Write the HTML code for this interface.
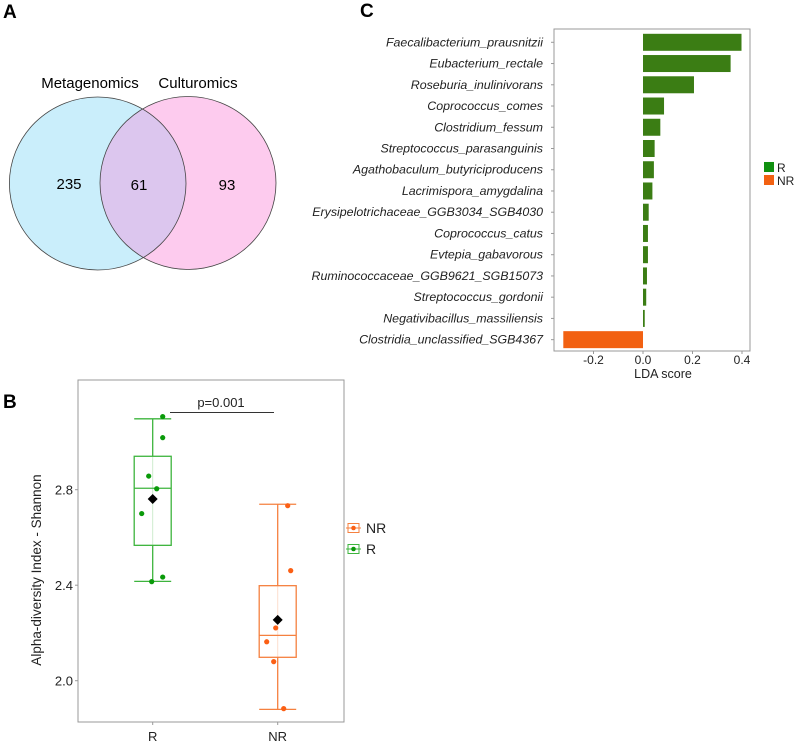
<!DOCTYPE html>
<html><head><meta charset="utf-8"><style>
html,body{margin:0;padding:0;background:#fff;}
svg{display:block;font-family:"Liberation Sans",Arial,sans-serif;}
</style></head><body>
<svg id="fig" width="797" height="745" viewBox="0 0 797 745" xmlns="http://www.w3.org/2000/svg">
<text x="3" y="18" font-size="19" font-weight="bold">A</text>
<text x="3" y="408" font-size="19" font-weight="bold">B</text>
<text x="360" y="17" font-size="19" font-weight="bold">C</text>
<g>
<defs><clipPath id="clipL"><ellipse cx="97.7" cy="183.5" rx="88.3" ry="86.5"/></clipPath></defs>
<ellipse cx="97.7" cy="183.5" rx="88.3" ry="86.5" fill="#caeefb"/>
<ellipse cx="188" cy="183" rx="88" ry="86.5" fill="#fdcbee"/>
<ellipse cx="188" cy="183" rx="88" ry="86.5" fill="#dcc6ee" clip-path="url(#clipL)"/>
<ellipse cx="97.7" cy="183.5" rx="88.3" ry="86.5" fill="none" stroke="#444" stroke-width="0.8"/>
<ellipse cx="188" cy="183" rx="88" ry="86.5" fill="none" stroke="#444" stroke-width="0.8"/>
<text x="90" y="88" font-size="15" text-anchor="middle">Metagenomics</text>
<text x="198" y="88" font-size="15" text-anchor="middle">Culturomics</text>
<text x="69" y="189" font-size="15" text-anchor="middle">235</text>
<text x="139" y="190" font-size="15" text-anchor="middle">61</text>
<text x="227" y="190" font-size="15" text-anchor="middle">93</text>
</g>
<g id="lda"></g>
<g id="box"></g>
</svg>
<script>
const ldaTaxa=["Faecalibacterium_prausnitzii","Eubacterium_rectale","Roseburia_inulinivorans","Coprococcus_comes","Clostridium_fessum","Streptococcus_parasanguinis","Agathobaculum_butyriciproducens","Lacrimispora_amygdalina","Erysipelotrichaceae_GGB3034_SGB4030","Coprococcus_catus","Evtepia_gabavorous","Ruminococcaceae_GGB9621_SGB15073","Streptococcus_gordonii","Negativibacillus_massiliensis","Clostridia_unclassified_SGB4367"];
const ldaScores=[0.398,0.354,0.206,0.085,0.07,0.047,0.044,0.038,0.023,0.02,0.02,0.016,0.013,0.007,-0.322];
const ldaTicks=[-0.2,0.0,0.2,0.4];
const ldaTickLabels=["-0.2","0.0","0.2","0.4"];

const boxGroups=["R","NR"];
const boxLow=[2.416,1.88];
const boxQ1=[2.567,2.098];
const boxMedian=[2.806,2.19];
const boxQ3=[2.94,2.398];
const boxHigh=[3.097,2.739];
const boxMean=[2.761,2.255];
const pointsR=[3.106,3.018,2.857,2.804,2.70,2.434,2.415];
const jitterR=[10,10,-4,4,-11,10,-1];
const pointsNR=[2.733,2.461,2.221,2.163,2.080,1.883];
const jitterNR=[10,13,-2,-11,-4,6];
const yTicks=[2.0,2.4,2.8];
const yTickLabels=["2.0","2.4","2.8"];

const NS="http://www.w3.org/2000/svg";
function mk(parent,tag,attrs,text){const e=document.createElementNS(NS,tag);for(const k in attrs)e.setAttribute(k,attrs[k]);if(text!==undefined)e.textContent=text;parent.appendChild(e);return e;}

const L=document.getElementById('lda');
const fx={l:554,r:750,t:29,b:351};
const xS=v=>643+v*(99/0.4);
const rowY=i=>42.3+i*21.24;
let fr=mk(L,'rect',{x:fx.l,y:fx.t,width:fx.r-fx.l,height:fx.b-fx.t,fill:'none',stroke:'#999','stroke-width':1});


ldaTaxa.forEach((t,i)=>{
  const v=ldaScores[i];const y=rowY(i);
  const x0=xS(Math.min(0,v)),x1=xS(Math.max(0,v));
  const b=mk(L,'rect',{x:x0,y:y-8.5,width:Math.max(1,x1-x0),height:17,fill:v>=0?'#3b7d14':'#f26112'});
  
  
  mk(L,'line',{x1:fx.l-3,x2:fx.l,y1:y,y2:y,stroke:'#999'});
  const lb=mk(L,'text',{x:543,y:y+4,'font-size':12.4,'font-style':'italic','text-anchor':'end',fill:'#222'},t);
  
  
});
ldaTicks.forEach((v,i)=>{
  mk(L,'line',{x1:xS(v),x2:xS(v),y1:fx.b,y2:fx.b+3,stroke:'#999'});
  const tl=mk(L,'text',{x:xS(v),y:364,'font-size':12,'text-anchor':'middle',fill:'#222'},ldaTickLabels[i]);
  
  
});
let xt=mk(L,'text',{x:663,y:378,'font-size':12.5,'text-anchor':'middle',fill:'#222'},'LDA score');


let lg1=mk(L,'rect',{x:764,y:162,width:10,height:10,fill:'#109010'});


let lt1=mk(L,'text',{x:777,y:172,'font-size':12,fill:'#222'},'R');


let lg2=mk(L,'rect',{x:764,y:175,width:10,height:10,fill:'#f26112'});


let lt2=mk(L,'text',{x:777,y:185,'font-size':12,fill:'#222'},'NR');



const B=document.getElementById('box');
const bf={l:78,r:344,t:380,b:722};
const yS=v=>489.7-(v-2.8)*(95.5/0.4);
const gx=[152.7,277.7];
const cols=['#3db43d','#f5803f'];
const ptc=['#0a9a0a','#fb5f14'];
let bfr=mk(B,'rect',{x:bf.l,y:bf.t,width:bf.r-bf.l,height:bf.b-bf.t,fill:'none',stroke:'#999','stroke-width':1});


yTicks.forEach((v,i)=>{
  mk(B,'line',{x1:bf.l-3,x2:bf.l,y1:yS(v),y2:yS(v),stroke:'#999'});
  const t=mk(B,'text',{x:bf.l-5,y:yS(v)+5,'font-size':13,'text-anchor':'end',fill:'#222'},yTickLabels[i]);
  
  
});
let yt=mk(B,'text',{x:0,y:0,'font-size':13.5,'text-anchor':'middle',fill:'#222',transform:'translate(41,570) rotate(-90)'},'Alpha-diversity Index - Shannon');


boxGroups.forEach((g,i)=>{
  const x=gx[i],c=cols[i],hw=18.5;
  mk(B,'line',{x1:x,x2:x,y1:yS(boxHigh[i]),y2:yS(boxLow[i]),stroke:c,'stroke-width':1.3});
  mk(B,'line',{x1:x-hw,x2:x+hw,y1:yS(boxHigh[i]),y2:yS(boxHigh[i]),stroke:c,'stroke-width':1.3});
  mk(B,'line',{x1:x-hw,x2:x+hw,y1:yS(boxLow[i]),y2:yS(boxLow[i]),stroke:c,'stroke-width':1.3});
  const r=mk(B,'rect',{x:x-hw,y:yS(boxQ3[i]),width:hw*2,height:yS(boxQ1[i])-yS(boxQ3[i]),fill:'#fff',stroke:c,'stroke-width':1.3});
  
  
  mk(B,'line',{x1:x,x2:x,y1:yS(boxQ3[i]),y2:yS(boxQ1[i]),stroke:c,'stroke-width':1,opacity:0.25});
  mk(B,'line',{x1:x-hw,x2:x+hw,y1:yS(boxMedian[i]),y2:yS(boxMedian[i]),stroke:c,'stroke-width':1.3});
  mk(B,'line',{x1:x,x2:x,y1:bf.b,y2:bf.b+3,stroke:'#999'});
  const tl=mk(B,'text',{x:x,y:741,'font-size':13,'text-anchor':'middle',fill:'#222'},g);
  
  
  const pts=i===0?pointsR:pointsNR, jit=i===0?jitterR:jitterNR;
  pts.forEach((v,k)=>{
    const p=mk(B,'circle',{cx:x+jit[k],cy:yS(v),r:2.6,fill:ptc[i]});
    
    
  });
  const my=yS(boxMean[i]);
  const m=mk(B,'polygon',{points:`${x},${my-5} ${x+5},${my} ${x},${my+5} ${x-5},${my}`,fill:'#000'});
  
  
});
let pl=mk(B,'line',{x1:170,x2:274,y1:412.5,y2:412.5,stroke:'#333','stroke-width':1});


let pt=mk(B,'text',{x:221,y:407,'font-size':13,'text-anchor':'middle',fill:'#222'},'p=0.001');


[['NR',528,1],['R',549,0]].forEach(([n,y,i])=>{
  const k=mk(B,'rect',{x:348,y:y-4.5,width:11,height:9,fill:'#fff',stroke:cols[i],'stroke-width':1});
  
  
  mk(B,'line',{x1:346,x2:361,y1:y,y2:y,stroke:cols[i],'stroke-width':1});
  mk(B,'circle',{cx:353.5,cy:y,r:2.3,fill:ptc[i]});
  const t=mk(B,'text',{x:366,y:y+5,'font-size':14,fill:'#222'},n);
  
  
});
</script>
</body></html>
